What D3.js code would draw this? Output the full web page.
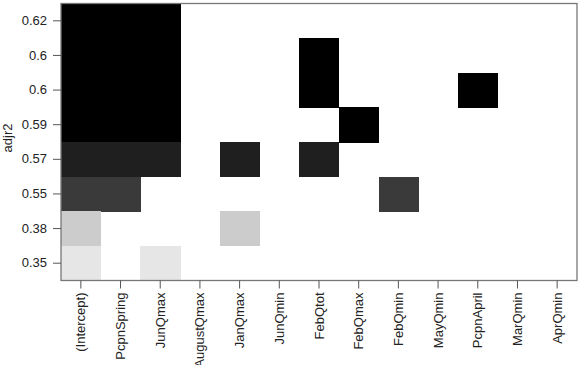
<!DOCTYPE html>
<html>
<head>
<meta charset="utf-8">
<script src="https://cdn.jsdelivr.net/npm/d3@7"></script>
<style>
  html, body { margin: 0; padding: 0; background: #fff; }
  svg { display: block; font-family: "Liberation Sans", Arial, sans-serif; }
</style>
</head>
<body>
<svg id="chart" width="580" height="365"></svg>
<script>
// ---- data ----
const variables = ["(Intercept)", "PcpnSpring", "JunQmax", "AugustQmax", "JanQmax", "JunQmin",
  "FebQtot", "FebQmax", "FebQmin", "MayQmin", "PcpnApril", "MarQmin", "AprQmin"];
// models, top row to bottom row
const adjr2Labels = ["0.62", "0.6", "0.6", "0.59", "0.57", "0.55", "0.38", "0.35"];
const adjr2Values = [0.62, 0.60, 0.60, 0.59, 0.57, 0.55, 0.38, 0.35];
const modelVars = [
  ["(Intercept)", "PcpnSpring", "JunQmax"],
  ["(Intercept)", "PcpnSpring", "JunQmax", "FebQtot"],
  ["(Intercept)", "PcpnSpring", "JunQmax", "FebQtot", "PcpnApril"],
  ["(Intercept)", "PcpnSpring", "JunQmax", "FebQmax"],
  ["(Intercept)", "PcpnSpring", "JunQmax", "JanQmax", "FebQtot"],
  ["(Intercept)", "PcpnSpring", "FebQmin"],
  ["(Intercept)", "JanQmax"],
  ["(Intercept)", "JunQmax"]
];

// ---- layout ----
const svg = d3.select("#chart");
const mLeft = 61, mRight = 577, mTop = 3.5, mBottom = 280.5;

const x = d3.scaleBand().domain(variables).range([mLeft, mRight]).padding(0);
const rowIds = d3.range(adjr2Labels.length);
const y = d3.scaleBand().domain(rowIds).range([mTop, mBottom]).padding(0);

const shade = d3.scaleLinear()
  .domain([0.35, 0.38, 0.55, 0.57, 0.59])
  .range(["#e6e6e6", "#cccccc", "#3a3a3a", "#1f1f1f", "#000000"])
  .clamp(true);

const cells = [];
modelVars.forEach((vars, i) => vars.forEach(v => cells.push({ row: i, v, val: adjr2Values[i] })));

svg.append("g").attr("shape-rendering", "crispEdges")
  .selectAll("rect").data(cells).join("rect")
  .attr("x", d => x(d.v))
  .attr("y", d => y(d.row))
  .attr("width", x.bandwidth() + 0.6)
  .attr("height", y.bandwidth() + 0.6)
  .attr("fill", d => shade(d.val));

// frame
svg.append("rect")
  .attr("x", mLeft).attr("y", mTop)
  .attr("width", mRight - mLeft).attr("height", mBottom - mTop)
  .attr("fill", "none").attr("stroke", "#777").attr("stroke-width", 1.3);

// y axis
const yAxis = d3.axisLeft(y).tickSize(8).tickPadding(6).tickFormat(i => adjr2Labels[i]);
const gy = svg.append("g").attr("transform", `translate(${mLeft},0)`).call(yAxis);
gy.select(".domain").remove();
gy.selectAll(".tick line").attr("stroke", "#555");
gy.selectAll(".tick text").attr("font-size", 13).attr("fill", "#222")
  .attr("font-family", "Liberation Sans, Arial, sans-serif");

// x axis
const xAxis = d3.axisBottom(x).tickSize(8).tickPadding(4);
const gx = svg.append("g").attr("transform", `translate(0,${mBottom})`).call(xAxis);
gx.select(".domain").remove();
gx.selectAll(".tick line").attr("stroke", "#555");
gx.selectAll(".tick text")
  .attr("font-size", 13).attr("fill", "#222")
  .attr("font-family", "Liberation Sans, Arial, sans-serif")
  .attr("transform", "rotate(-90)")
  .attr("text-anchor", "end")
  .attr("x", -12).attr("y", 0).attr("dy", "0.35em");

// y title
svg.append("text")
  .attr("transform", "translate(12,138) rotate(-90)")
  .attr("text-anchor", "middle")
  .attr("font-size", 13).attr("fill", "#222")
  .text("adjr2");
</script>
</body>
</html>
